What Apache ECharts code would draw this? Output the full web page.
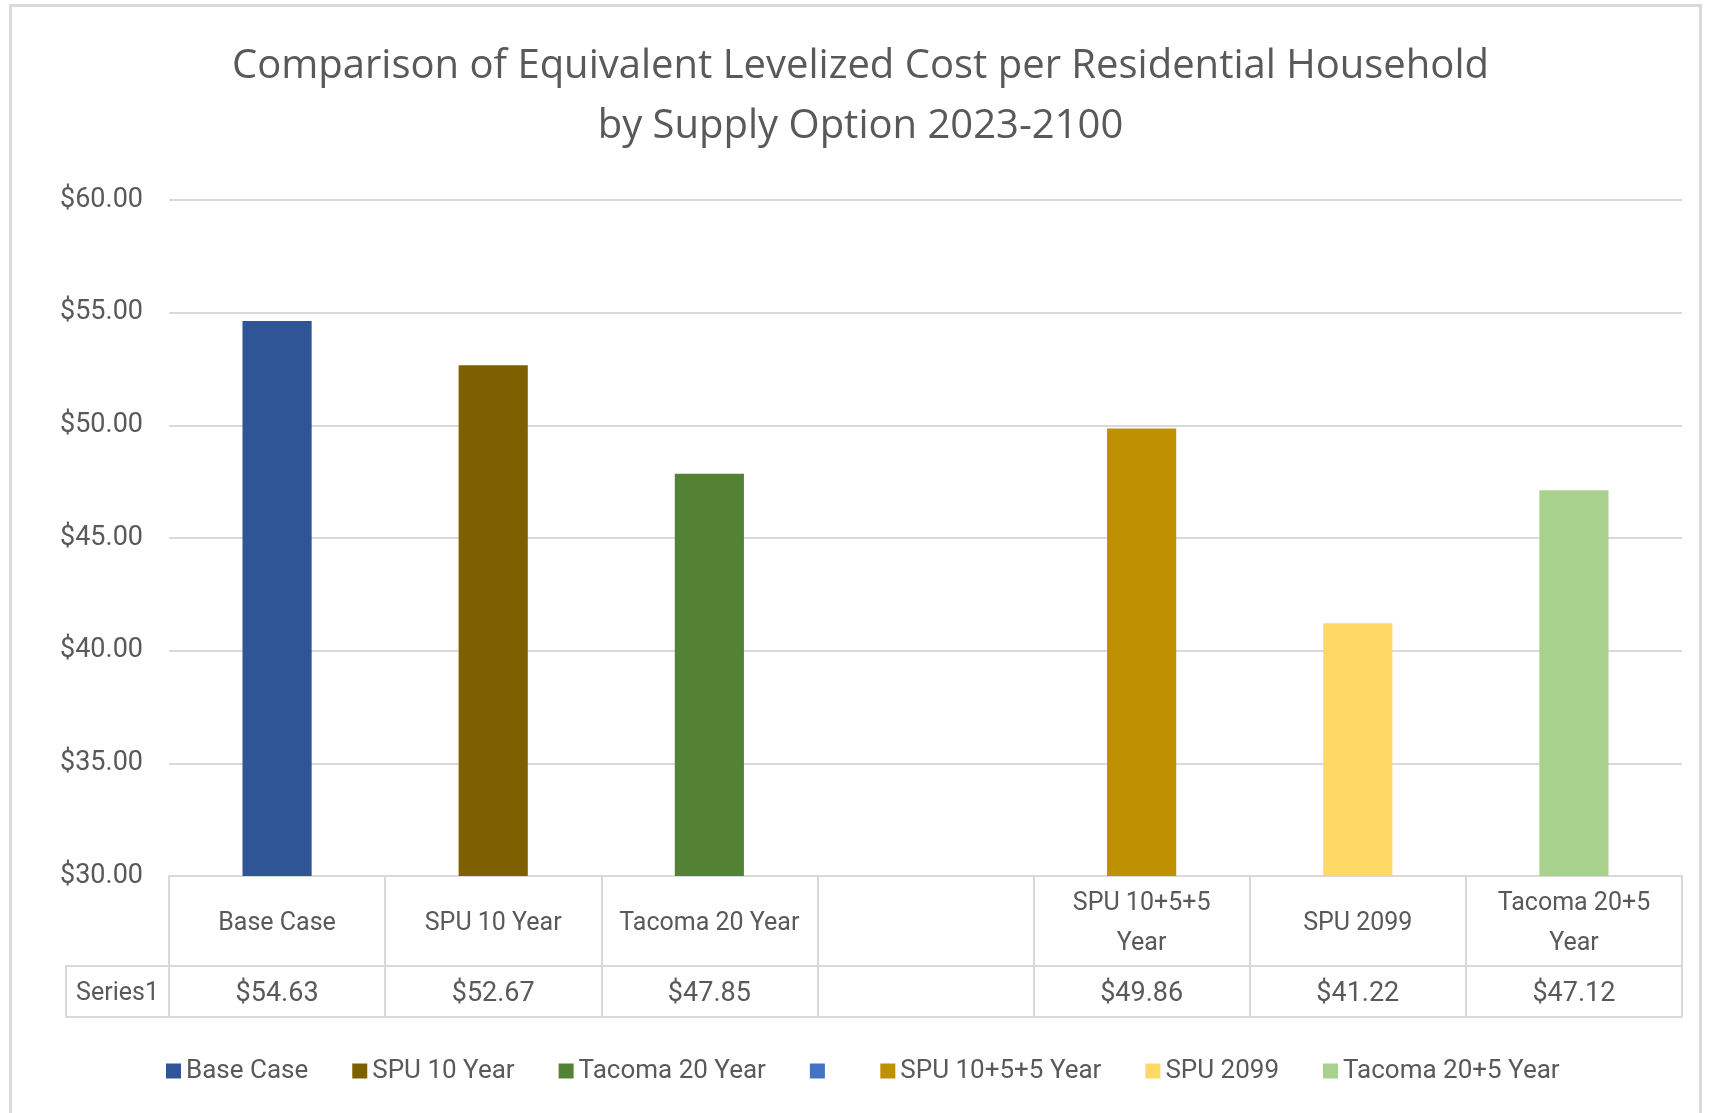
<!DOCTYPE html>
<html>
<head>
<meta charset="utf-8">
<title>Levelized Cost per Residential Household</title>
<script src="https://cdn.jsdelivr.net/npm/echarts@6/dist/echarts.min.js"></script>
<style>
  html, body { margin: 0; padding: 0; background: #fff; }
  #frame {
    position: absolute; left: 9px; top: 4px; width: 1693px; height: 1120px;
    border: 3px solid #d9d9d9; box-sizing: border-box;
  }
  #chart { position: absolute; left: 0; top: 0; width: 1721px; height: 1113px; }
</style>
</head>
<body>
<div id="frame"></div>
<div id="chart"></div>
<script>
// data
const categories = ['Base Case', 'SPU 10 Year', 'Tacoma 20 Year', ' ', 'SPU 10+5+5 Year', 'SPU 2099', 'Tacoma 20+5 Year']
const headerLabels = ['Base Case', 'SPU 10 Year', 'Tacoma 20 Year', '', 'SPU 10+5+5\nYear', 'SPU 2099', 'Tacoma 20+5\nYear']
const costs = [54.63, 52.67, 47.85, null, 49.86, 41.22, 47.12]
const barColors = ['#2f5597', '#7f6000', '#548235', '#4472c4', '#bf9000', '#ffd966', '#a9d18e']
const rowName = 'Series1'

const textColor = '#595959'
const lineColor = '#d9d9d9'
const font = "'Roboto', sans-serif"

const money = v => (v == null ? '' : '$' + v.toFixed(2))

const chart = echarts.init(document.getElementById('chart'))

// one series per category so the legend lists them; they overlap via barGap -100%
const series = categories.map((name, k) => ({
  name,
  type: 'bar',
  xAxisIndex: 0,
  yAxisIndex: 0,
  barWidth: '32%',
  barGap: '-100%',
  itemStyle: { color: barColors[k] },
  data: costs.map((v, i) => (i === k ? v : null)),
}))

chart.setOption({
  animation: false,
  textStyle: { fontFamily: font, color: textColor },
  title: {
    text: 'Comparison of Equivalent Levelized Cost per Residential Household\nby Supply Option 2023-2100',
    left: 'center',
    top: 32,
    textStyle: { fontFamily: "'Open Sans', sans-serif", fontWeight: 'normal', fontSize: 40, lineHeight: 60, color: textColor },
  },
  legend: {
    data: categories,
    left: 161,
    top: 1053,
    icon: 'rect',
    itemWidth: 15,
    itemHeight: 15,
    itemGap: 44,
    textStyle: { fontFamily: font, fontSize: 26, color: textColor },
  },
  grid: [
    { left: 169, right: 39, top: 200, bottom: 237 },
    { left: 66, top: 966, width: 103, height: 51 },
  ],
  xAxis: [
    {
      type: 'category',
      gridIndex: 0,
      data: categories,
      position: 'bottom',
      axisLine: { lineStyle: { color: lineColor, width: 2 } },
      axisTick: { show: true, length: 141, lineStyle: { color: lineColor, width: 2 } },
      axisLabel: {
        formatter: (v, i) => headerLabels[i],
        margin: 48,
        verticalAlign: 'middle',
        align: 'center',
        lineHeight: 40,
        fontSize: 25,
        color: textColor,
        interval: 0,
      },
    },
    {
      type: 'category',
      gridIndex: 0,
      data: categories,
      position: 'bottom',
      offset: 90,
      axisLine: { lineStyle: { color: lineColor, width: 2 } },
      axisTick: { show: false },
      axisLabel: {
        formatter: (v, i) => money(costs[i]),
        margin: 28,
        verticalAlign: 'middle',
        fontSize: 27,
        color: textColor,
        interval: 0,
      },
    },
    {
      type: 'category',
      gridIndex: 0,
      data: categories,
      position: 'bottom',
      offset: 141,
      axisLine: { lineStyle: { color: lineColor, width: 2 } },
      axisTick: { show: false },
      axisLabel: { show: false },
    },
    {
      type: 'category',
      gridIndex: 1,
      data: [rowName],
      position: 'top',
      axisLine: { lineStyle: { color: lineColor, width: 2 } },
      axisTick: { show: false },
      axisLabel: { inside: true, margin: 28, verticalAlign: 'middle', fontSize: 25, color: textColor },
    },
    {
      type: 'category',
      gridIndex: 1,
      data: [rowName],
      position: 'bottom',
      axisLine: { lineStyle: { color: lineColor, width: 2 } },
      axisTick: { show: false },
      axisLabel: { show: false },
    },
  ],
  yAxis: [
    {
      type: 'value',
      gridIndex: 0,
      min: 30,
      max: 60,
      interval: 5,
      axisLine: { show: false },
      axisTick: { show: false },
      axisLabel: { formatter: v => money(v), margin: 26, fontSize: 27, color: textColor },
      splitLine: { lineStyle: { color: lineColor, width: 2 } },
    },
    {
      type: 'category',
      gridIndex: 1,
      data: [''],
      axisLine: { show: true, lineStyle: { color: lineColor, width: 2 } },
      axisTick: { show: false },
      axisLabel: { show: false },
      splitLine: { show: false },
    },
  ],
  series,
})
</script>
</body>
</html>
